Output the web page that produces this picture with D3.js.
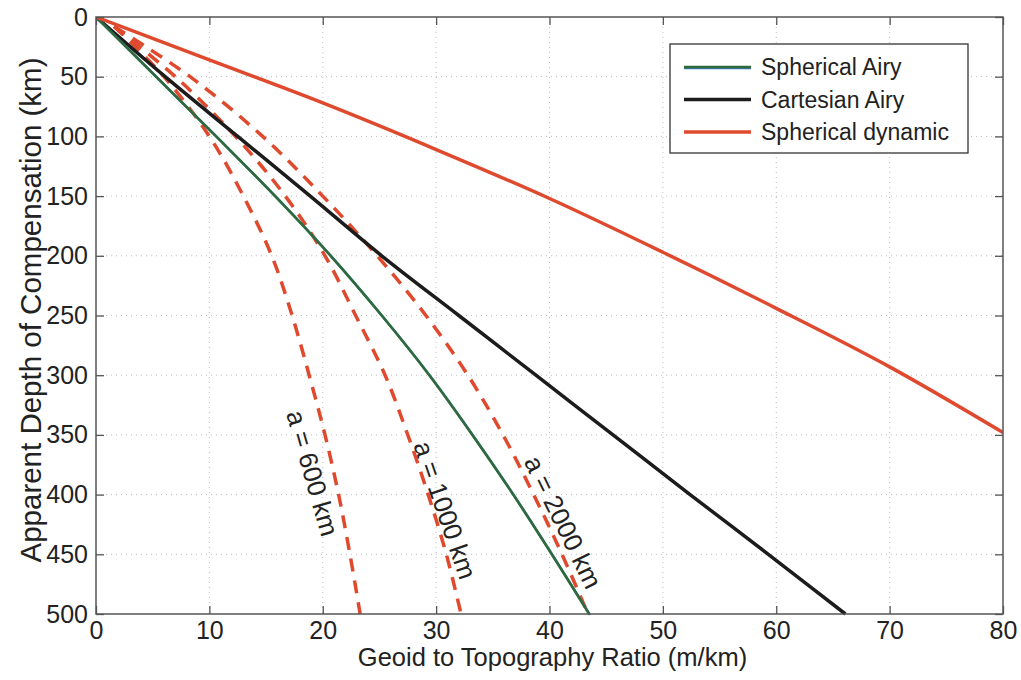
<!DOCTYPE html>
<html>
<head>
<meta charset="utf-8">
<script src="https://cdn.jsdelivr.net/npm/d3@7"></script>
<style>
  body { margin: 0; background: #fff; }
  text { font-family: "Liberation Sans", Arial, Helvetica, sans-serif; fill: #222; }
</style>
</head>
<body>
<script>
const depths = [0, 50, 100, 150, 200, 250, 300, 350, 400, 450, 500];
const dashDepths = [8, 50, 100, 150, 200, 250, 300, 350, 400, 450, 500];

// geoid to topography ratio (m/km)
const sphericalAiry = [0, 5.3, 10.6, 15.8, 20.7, 25.2, 29.4, 33.2, 36.8, 40.2, 43.5];
const cartesianAiry = [0, 6.1, 12.5, 18.9, 25.2, 32.0, 38.8, 45.6, 52.4, 59.3, 66.1];
const a600 = [1.6, 6.0, 10.0, 13.0, 15.5, 17.3, 18.8, 20.2, 21.4, 22.4, 23.3];
const a1000 = [1.6, 7.0, 12.3, 16.7, 20.2, 22.9, 25.5, 27.5, 29.3, 30.9, 32.2];
const a2000 = [1.6, 8.3, 14.7, 20.0, 24.8, 29.1, 32.8, 35.9, 38.6, 41.1, 43.4];

// spherical dynamic curve leaves the frame at 80 m/km
const dynamicRatio = [0, 10, 20, 30, 40, 50, 60, 70, 80];
const dynamicDepth = [0, 36, 72, 111, 152, 197, 244, 293, 348];

const xTicks = [0, 10, 20, 30, 40, 50, 60, 70, 80];
const yTicks = [0, 50, 100, 150, 200, 250, 300, 350, 400, 450, 500];

const legendNames = ["Spherical Airy", "Cartesian Airy", "Spherical dynamic"];
const legendColors = ["#2f6a3a", "#1c1c1c", "#df4a2e"];

const labels = [
  { text: "a = 600 km", x: 19.1, d: 382, angle: 74 },
  { text: "a = 1000 km", x: 30.8, d: 413, angle: 71 },
  { text: "a = 2000 km", x: 41.2, d: 423, angle: 64 }
];

const width = 1021, height = 680;
const margin = { top: 17, right: 18, bottom: 66, left: 96 };
const w = width - margin.left - margin.right;
const h = height - margin.top - margin.bottom;

const red = "#df4a2e";
const blue = "#3b78b0";

const svg = d3.select("body").append("svg")
  .attr("width", width)
  .attr("height", height);

const g = svg.append("g")
  .attr("transform", `translate(${margin.left},${margin.top})`);

const x = d3.scaleLinear().domain([0, 80]).range([0, w]);
const y = d3.scaleLinear().domain([0, 500]).range([0, h]);

// dotted grid
g.append("g").selectAll("line").data(xTicks.slice(1, -1)).join("line")
  .attr("x1", d => x(d)).attr("x2", d => x(d))
  .attr("y1", 0).attr("y2", h)
  .attr("stroke", "#bcbcbc").attr("stroke-dasharray", "1,4");
g.append("g").selectAll("line").data(yTicks.slice(1, -1)).join("line")
  .attr("y1", d => y(d)).attr("y2", d => y(d))
  .attr("x1", 0).attr("x2", w)
  .attr("stroke", "#bcbcbc").attr("stroke-dasharray", "1,4");

const line = d3.line()
  .x(d => x(d[0]))
  .y(d => y(d[1]))
  .curve(d3.curveCatmullRom.alpha(0.5));

g.append("clipPath").attr("id", "plot")
  .append("rect").attr("width", w).attr("height", h + 2);

const curves = g.append("g").attr("clip-path", "url(#plot)");

// dashed a = ... curves
[a600, a1000, a2000].forEach(arr => {
  curves.append("path")
    .datum(arr.map((v, i) => [v, dashDepths[i]]))
    .attr("d", line)
    .attr("fill", "none")
    .attr("stroke", red)
    .attr("stroke-width", 3.5)
    .attr("stroke-dasharray", "13,9");
});

// cartesian airy
curves.append("path")
  .datum(cartesianAiry.map((v, i) => [v, depths[i]]))
  .attr("d", line)
  .attr("fill", "none")
  .attr("stroke", "#1c1c1c")
  .attr("stroke-width", 3.5);

// spherical airy (blue under green, as printed)
const airyPts = sphericalAiry.map((v, i) => [v, depths[i]]);
curves.append("path").datum(airyPts).attr("d", line)
  .attr("transform", "translate(0.8,0.8)")
  .attr("fill", "none").attr("stroke", blue).attr("stroke-width", 2.5);
curves.append("path").datum(airyPts).attr("d", line)
  .attr("fill", "none").attr("stroke", "#2f6a3a").attr("stroke-width", 2.6);

// spherical dynamic
curves.append("path")
  .datum(dynamicRatio.map((v, i) => [v, dynamicDepth[i]]))
  .attr("d", line)
  .attr("fill", "none")
  .attr("stroke", red)
  .attr("stroke-width", 3.5);

// axes with inward ticks on all sides
const axisColor = "#555";
const styleAxis = sel => {
  sel.select(".domain").remove();
  sel.selectAll(".tick line").attr("stroke", axisColor).attr("stroke-width", 1.3);
  sel.selectAll(".tick text").attr("fill", "#222").style("font-size", "25px");
};

g.append("g").attr("transform", `translate(0,${h})`)
  .call(d3.axisBottom(x).tickValues(xTicks).tickSize(-8).tickPadding(7))
  .call(styleAxis)
  .selectAll(".tick text").attr("dy", "0.71em");
g.append("g")
  .call(d3.axisLeft(y).tickValues(yTicks).tickSize(-8).tickPadding(8))
  .call(styleAxis);
g.append("g")
  .call(d3.axisTop(x).tickValues(xTicks).tickSize(-8).tickFormat(""))
  .call(styleAxis);
g.append("g").attr("transform", `translate(${w},0)`)
  .call(d3.axisRight(y).tickValues(yTicks).tickSize(-8).tickFormat(""))
  .call(styleAxis);

g.append("rect")
  .attr("width", w).attr("height", h)
  .attr("fill", "none").attr("stroke", axisColor).attr("stroke-width", 1.5);

// axis titles
svg.append("text")
  .attr("x", margin.left + x(40) + 3).attr("y", 666)
  .attr("text-anchor", "middle")
  .style("font-size", "25.5px")
  .text("Geoid to Topography Ratio (m/km)");
svg.append("text")
  .attr("transform", "translate(41,310) rotate(-90)")
  .attr("text-anchor", "middle")
  .style("font-size", "29.5px")
  .text("Apparent Depth of Compensation (km)");

// curve labels
g.append("g").selectAll("text").data(labels).join("text")
  .attr("transform", d => `translate(${x(d.x)},${y(d.d)}) rotate(${d.angle})`)
  .attr("text-anchor", "middle")
  .attr("dy", "0.35em")
  .style("font-size", "26px")
  .text(d => d.text);

// legend
const lg = svg.append("g").attr("transform", "translate(670,44)");
lg.append("rect")
  .attr("width", 298).attr("height", 109)
  .attr("fill", "#fff").attr("stroke", "#333").attr("stroke-width", 1.3);
legendNames.forEach((name, i) => {
  const ly = 23 + i * 32.5;
  if (i === 0) {
    lg.append("line")
      .attr("x1", 14).attr("x2", 81).attr("y1", ly + 1).attr("y2", ly + 1)
      .attr("stroke", blue).attr("stroke-width", 2.5);
  }
  lg.append("line")
    .attr("x1", 14).attr("x2", 81).attr("y1", ly).attr("y2", ly)
    .attr("stroke", legendColors[i]).attr("stroke-width", i === 0 ? 2.6 : 3.5);
  lg.append("text")
    .attr("x", 91).attr("y", ly).attr("dy", "0.35em")
    .style("font-size", "23px")
    .text(name);
});
</script>
</body>
</html>
